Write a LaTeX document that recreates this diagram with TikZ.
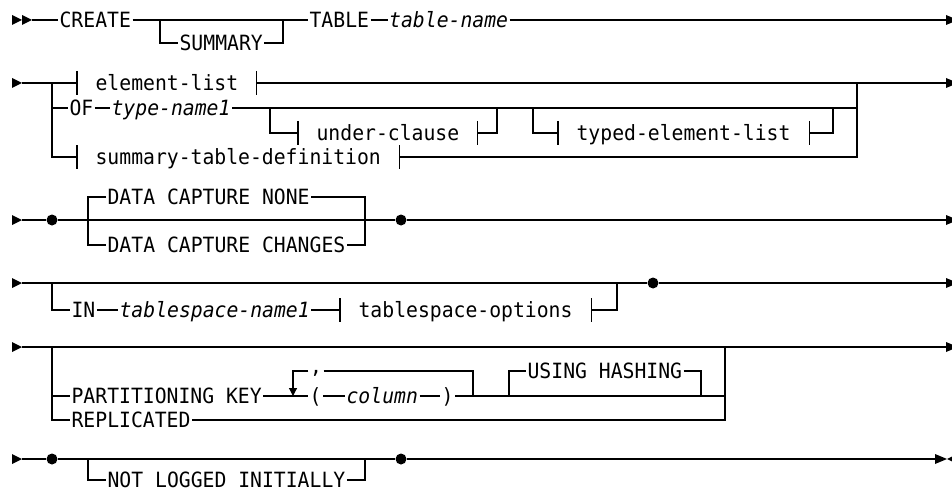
\documentclass[tikz,border=0pt]{standalone}
\usepackage{fontspec}
\setmonofont[FakeStretch=0.94]{DejaVu Sans Mono}
\usetikzlibrary{arrows.meta,positioning}
\tikzset{
    palavra/.style={
        font=\ttfamily\fontsize{21}{24}\selectfont,
        anchor=west,
        inner xsep=1pt,
        inner ysep=0pt,
        text height=15.3pt,
        text depth=0pt
    },
    variavel/.style={palavra, font=\ttfamily\itshape\fontsize{21}{24}\selectfont},
    fragmento/.style={palavra, inner xsep=18pt},
    virgula/.style={palavra, anchor=center, text height=7pt, text depth=3pt},
    ponto/.style={circle, fill, inner sep=0pt, minimum size=11pt},
    laco/.style={-{Triangle[length=8pt,width=8pt]}},
    pics/inicio/.style={code={\fill (0,-5) -- (10,0) -- (0,5) -- cycle;}},
    pics/seta/.style={code={\fill (0,-5) -- (12,0) -- (0,5) -- cycle;}},
    pics/fim/.style={code={\fill (0,0) -- (10,-5) -- (10,5) -- cycle;}}
}

\begin{document}
\begin{tikzpicture}[x=1pt, y=-1pt, line width=1.2pt]
    \useasboundingbox (0,0) rectangle (952,492);

    % CREATE [SUMMARY] TABLE table-name
    \pic at (12,20) {inicio};
    \pic at (22,20) {inicio};
    \coordinate (s1) at (32,20);
    \coordinate (b1l) at (160,20);
    \coordinate (b1r) at (283,20);
    \coordinate (e1) at (946,20);
    \node[palavra] (create) at (58,20) {CREATE};
    \node[palavra] (summary) at (178,43) {SUMMARY};
    \node[palavra] (table) at (308,20) {TABLE};
    \node[variavel, right=17pt of table] (tname) {table-name};
    \pic at (e1) {seta};
    \draw (s1) -- (create.west);
    \draw (create.east) -- (table.west);
    \draw (table.east) -- (tname.west);
    \draw (tname.east) -- (e1);
    \draw (b1l) |- (summary.west);
    \draw (summary.east) -| (b1r);

    % element-list / OF type-name1 / summary-table-definition
    \pic at (12,83) {inicio};
    \coordinate (s2) at (22,83);
    \coordinate (b2l) at (52,83);
    \coordinate (b2r) at (857,83);
    \coordinate (e2) at (946,83);
    \coordinate (b2a) at (270,108);
    \coordinate (b2b) at (497,108);
    \coordinate (b2c) at (533,108);
    \coordinate (b2d) at (833,108);
    \node[fragmento] (el) at (77,83) {element-list};
    \node[palavra] (ofkw) at (68,108) {OF};
    \node[variavel] (tn1) at (110,108) {type-name1};
    \node[fragmento] (uc) at (298,133) {under-clause};
    \node[fragmento] (tel) at (558,133) {typed-element-list};
    \node[fragmento] (std) at (77,157) {summary-table-definition};
    \pic at (e2) {seta};
    \draw (s2) -- (el.west);
    \draw (el.east) -- (e2);
    \draw (b2l) |- (std.west);
    \draw (b2l |- ofkw) -- (ofkw.west);
    \draw (ofkw.east) -- (tn1.west);
    \draw (tn1.east) -- (b2r |- tn1);
    \draw (std.east) -| (b2r);
    \draw (b2a) |- (uc.west);
    \draw (uc.east) -| (b2b);
    \draw (b2c) |- (tel.west);
    \draw (tel.east) -| (b2d);

    % DATA CAPTURE
    \pic at (12,220) {inicio};
    \coordinate (s3) at (22,220);
    \coordinate (b3l) at (88,220);
    \coordinate (b3r) at (365,220);
    \coordinate (e3) at (946,220);
    \node[ponto] (p3a) at (52,220) {};
    \node[ponto] (p3b) at (401,220) {};
    \node[palavra] (dcn) at (106,197) {DATA CAPTURE NONE};
    \node[palavra] (dcc) at (106,245) {DATA CAPTURE CHANGES};
    \pic at (e3) {seta};
    \draw (s3) -- (p3a) -- (p3b) -- (e3);
    \draw (dcn.west) -| (b3l) |- (dcc.west);
    \draw (dcn.east) -| (b3r) |- (dcc.east);

    % IN tablespace-name1
    \pic at (12,283) {inicio};
    \coordinate (s4) at (22,283);
    \coordinate (b4l) at (52,283);
    \coordinate (b4r) at (617,283);
    \coordinate (e4) at (946,283);
    \node[ponto] (p4) at (653,283) {};
    \node[palavra] (inkw) at (70,310) {IN};
    \node[variavel] (tsn) at (118,310) {tablespace-name1};
    \node[fragmento] (tso) at (340,310) {tablespace-options};
    \pic at (e4) {seta};
    \draw (s4) -- (p4) -- (e4);
    \draw (b4l) |- (inkw.west);
    \draw (inkw.east) -- (tsn.west);
    \draw (tsn.east) -- (tso.west);
    \draw (tso.east) -| (b4r);

    % PARTITIONING KEY / REPLICATED
    \pic at (12,347) {inicio};
    \coordinate (s5) at (22,347);
    \coordinate (b5l) at (52,347);
    \coordinate (b5r) at (725,347);
    \coordinate (e5) at (946,347);
    \coordinate (l5a) at (293,396);
    \coordinate (l5b) at (473,396);
    \coordinate (b5c) at (509,396);
    \coordinate (b5d) at (701,396);
    \node[palavra] (pk) at (70,396) {PARTITIONING KEY};
    \node[palavra] (lp) at (308,396) {(};
    \node[variavel] (col) at (345,396) {column};
    \node[palavra] (rp) at (440,396) {)};
    \node[virgula] (cm) at (316,371) {,};
    \node[palavra] (uh) at (526,371) {USING HASHING};
    \node[palavra] (rep) at (70,420) {REPLICATED};
    \pic at (e5) {seta};
    \draw (s5) -- (e5);
    \draw (b5l) |- (rep.west);
    \draw (b5l |- pk) -- (pk.west);
    \draw (pk.east) -- (lp.west);
    \draw (lp.east) -- (col.west);
    \draw (col.east) -- (rp.west);
    \draw (rp.east) -- (b5r |- rp);
    \draw (rep.east) -| (b5r);
    \draw[laco] (cm.west) -| (l5a);
    \draw (cm.east) -| (l5b);
    \draw (b5c) |- (uh.west);
    \draw (uh.east) -| (b5d);

    % NOT LOGGED INITIALLY
    \pic at (12,459) {inicio};
    \coordinate (s6) at (22,459);
    \coordinate (b6l) at (88,459);
    \coordinate (b6r) at (365,459);
    \coordinate (e6) at (935,459);
    \node[ponto] (p6a) at (52,459) {};
    \node[ponto] (p6b) at (401,459) {};
    \node[palavra] (nli) at (106,480) {NOT LOGGED INITIALLY};
    \pic at (e6) {seta};
    \pic at (947,459) {fim};
    \draw (s6) -- (p6a) -- (p6b) -- (e6);
    \draw (b6l) |- (nli.west);
    \draw (nli.east) -| (b6r);

    \foreach \f in {el,uc,tel,std,tso} {
        \draw ([yshift=12pt]\f.west) -- ([yshift=-12pt]\f.west);
        \draw ([yshift=12pt]\f.east) -- ([yshift=-12pt]\f.east);
    }
\end{tikzpicture}
\end{document}
